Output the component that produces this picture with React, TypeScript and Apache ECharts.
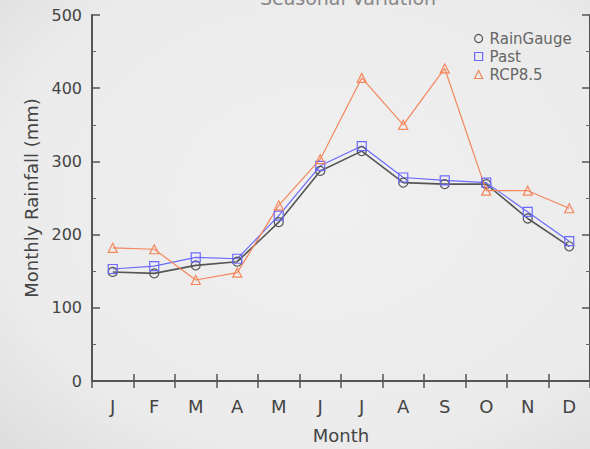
import React, { useEffect, useRef } from "react";
import * as echarts from "echarts";

const months = ["J", "F", "M", "A", "M", "J", "J", "A", "S", "O", "N", "D"];
const rainGauge = [149, 147, 158, 163, 217, 287, 314, 271, 269, 269, 222, 184];
const past = [153, 157, 169, 167, 226, 294, 321, 278, 274, 271, 231, 191];
const rcp85 = [182, 180, 138, 148, 240, 303, 414, 350, 427, 260, 260, 236];
const yTicks = [0, 100, 200, 300, 400, 500];

const FONT = "DejaVu Sans";

export default function App() {
  const ref = useRef<HTMLDivElement>(null);
  useEffect(() => {
    if (!ref.current) return;
    const chart = echarts.init(ref.current, undefined, { renderer: "svg" });
    const axisLine = { show: true, lineStyle: { color: "#555", width: 2 } };
    const mk = (name: string, data: number[], symbol: string, color: string, size: number, lw: number) => ({
      name,
      type: "line",
      data,
      symbol,
      symbolSize: size,
      showAllSymbol: true,
      lineStyle: { color, width: lw },
      itemStyle: { color: "rgba(0,0,0,0)", borderColor: color, borderWidth: 1.2 },
      emphasis: { disabled: true },
    });
    chart.setOption({
      animation: false,
      backgroundColor: {
        type: "radial",
        x: 0.55,
        y: 0.45,
        r: 0.8,
        colorStops: [
          { offset: 0, color: "#f0f0f0" },
          { offset: 0.7, color: "#ebebeb" },
          { offset: 1, color: "#dcdcdc" },
        ],
      },
      title: {
        text: "Seasonal Variation",
        left: 343,
        top: -17,
        textAlign: "center",
        textStyle: { fontFamily: FONT, fontSize: 19, fontWeight: "normal", color: "#888" },
      },
      legend: {
        orient: "vertical",
        left: 469,
        top: 26,
        itemGap: 3,
        itemWidth: 8,
        itemHeight: 8,
        textStyle: { fontFamily: FONT, fontSize: 15, color: "#666", padding: [0, 0, 0, 2] },
        data: [
          { name: "RainGauge", icon: "circle", itemStyle: { color: "rgba(0,0,0,0)", borderColor: "#555", borderWidth: 1.2 } },
          { name: "Past", icon: "rect", itemStyle: { color: "rgba(0,0,0,0)", borderColor: "#6a6aff", borderWidth: 1.2 } },
          { name: "RCP8.5", icon: "triangle", itemStyle: { color: "rgba(0,0,0,0)", borderColor: "#f4865c", borderWidth: 1.2 } },
        ],
      },
      grid: { left: 92, top: 15, right: -2, bottom: 63, containLabel: false },
      xAxis: [
        {
          type: "category",
          data: months,
          boundaryGap: true,
          name: "Month",
          nameLocation: "middle",
          nameGap: 45,
          nameTextStyle: { fontFamily: FONT, fontSize: 18, color: "#444" },
          axisLine,
          axisTick: { show: true, inside: true, length: 7, interval: 0, lineStyle: { color: "#555", width: 1.5 } },
          axisLabel: { fontFamily: FONT, fontSize: 18, color: "#444", margin: 16 },
          splitLine: { show: false },
        },
        {
          type: "category",
          data: months,
          position: "top",
          boundaryGap: true,
          axisLine,
          axisTick: { show: true, inside: true, length: 7, interval: 0, lineStyle: { color: "#555", width: 1.5 } },
          axisLabel: { show: false },
          splitLine: { show: false },
        },
      ],
      yAxis: [
        {
          type: "value",
          min: yTicks[0],
          max: yTicks[yTicks.length - 1],
          interval: 100,
          name: "Monthly Rainfall (mm)",
          nameLocation: "middle",
          nameGap: 52,
          nameTextStyle: { fontFamily: FONT, fontSize: 18, color: "#444" },
          axisLine,
          axisTick: { show: true, inside: true, length: 8, lineStyle: { color: "#555", width: 1.5 } },
          minorTick: { show: true, splitNumber: 2, length: 4, lineStyle: { color: "#666", width: 1 } },
          axisLabel: { fontFamily: FONT, fontSize: 16, color: "#444", margin: 10 },
          splitLine: { show: false },
        },
        {
          type: "value",
          position: "right",
          min: yTicks[0],
          max: yTicks[yTicks.length - 1],
          interval: 100,
          axisLine,
          axisTick: { show: true, inside: true, length: 8, lineStyle: { color: "#555", width: 1.5 } },
          minorTick: { show: true, splitNumber: 2, length: 4, lineStyle: { color: "#666", width: 1 } },
          axisLabel: { show: false },
          splitLine: { show: false },
        },
      ],
      series: [
        mk("RainGauge", rainGauge, "circle", "#555", 9, 1.6),
        mk("Past", past, "rect", "#6a6aff", 9, 1.2),
        mk("RCP8.5", rcp85, "triangle", "#f4865c", 9, 1.2),
      ],
    });
    return () => chart.dispose();
  }, []);
  return <div ref={ref} style={{ width: 590, height: 449, position: "absolute", left: 0, top: 0 }} />;
}
